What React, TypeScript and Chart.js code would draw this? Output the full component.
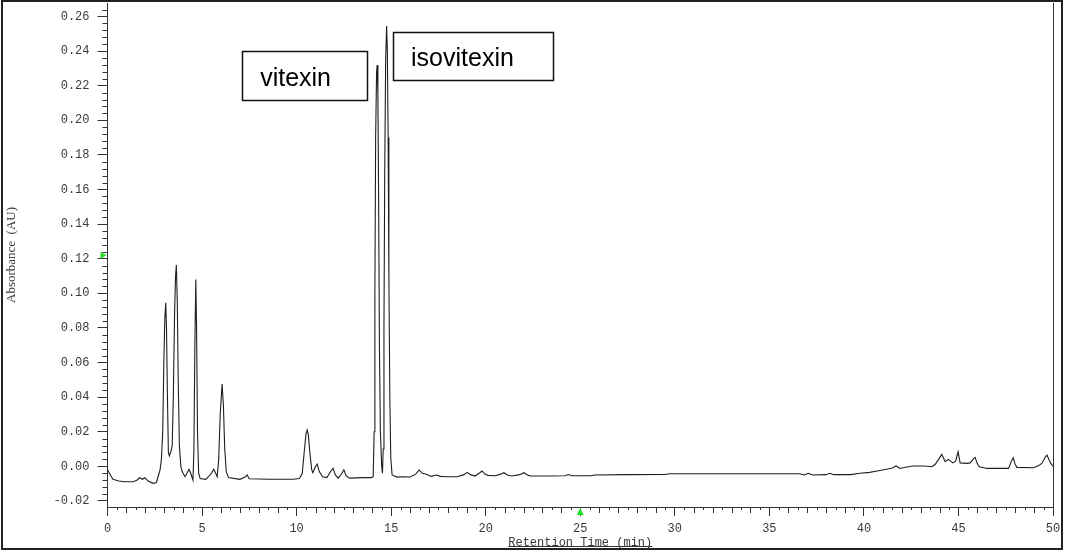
import React, { useEffect, useRef } from 'react';
import Chart from 'chart.js/auto';

// Retention time (min) of each sampled point of the trace
const retentionTime = [
  0.00, 0.10, 0.29, 0.60, 0.91, 1.35, 1.55, 1.70, 1.85, 1.97, 2.15, 2.41, 2.59, 2.70, 2.78, 2.85, 2.92, 2.98,
  3.03, 3.08, 3.12, 3.17, 3.22, 3.27, 3.35, 3.42, 3.48, 3.55, 3.60, 3.64, 3.69, 3.74, 3.80, 3.88, 3.95,
  4.10, 4.25, 4.31, 4.40, 4.52, 4.57, 4.62, 4.67, 4.71, 4.76, 4.82, 4.90, 5.20, 5.50, 5.62, 5.72, 5.80,
  5.88, 5.96, 6.06, 6.13, 6.20, 6.28, 6.40, 7.00, 7.30, 7.38, 7.50, 8.50, 9.80, 10.15, 10.30, 10.40,
  10.50, 10.56, 10.62, 10.70, 10.80, 10.86, 10.98, 11.09, 11.20, 11.37, 11.60, 11.80, 11.93, 12.05,
  12.20, 12.40, 12.50, 12.62, 12.80, 13.50, 13.95, 14.05, 14.10, 14.14, 14.18, 14.23, 14.26, 14.30,
  14.34, 14.38, 14.43, 14.50, 14.54, 14.58, 14.62, 14.66, 14.71, 14.76, 14.80, 14.84, 14.88, 14.93,
  14.98, 15.05, 15.30, 15.60, 16.00, 16.30, 16.48, 16.65, 16.87, 17.10, 17.40, 17.60, 17.93, 18.50,
  18.85, 19.02, 19.20, 19.43, 19.65, 19.81, 19.95, 20.13, 20.50, 20.80, 20.96, 21.15, 21.37, 21.80,
  22.02, 22.20, 22.34, 23.50, 24.20, 24.37, 24.55, 25.60, 25.75, 27.50, 29.50, 29.70, 32.00, 34.50,
  36.60, 36.85, 37.05, 37.30, 38.00, 38.20, 38.40, 39.30, 39.80, 40.30, 40.70, 41.20, 41.50, 41.70,
  41.90, 42.20, 42.60, 43.20, 43.60, 43.77, 43.95, 44.12, 44.30, 44.47, 44.70, 44.85, 44.98, 45.09,
  45.44, 45.62, 45.80, 45.88, 45.98, 46.10, 46.50, 47.65, 47.80, 47.90, 48.00, 48.10, 48.97, 49.25,
  49.41, 49.60, 49.68, 49.80, 49.89, 50.00,
];

// Absorbance (AU) at each of those times
const absorbance = [
  -0.0020, -0.0040, -0.0075, -0.0085, -0.0089, -0.0089, -0.0080, -0.0066, -0.0075, -0.0066, -0.0085, -0.0098, -0.0093, -0.0050, -0.0020, 0.0040, 0.0200, 0.0600,
  0.0850, 0.0946, 0.0800, 0.0400, 0.0080, 0.0060, 0.0084, 0.0120, 0.0400, 0.0900, 0.1100, 0.1164, 0.0950, 0.0500, 0.0120, 0.0000, -0.0030,
  -0.0060, -0.0030, -0.0017, -0.0040, -0.0080, 0.0100, 0.0700, 0.1080, 0.0800, 0.0200, -0.0040, -0.0070, -0.0075, -0.0040, -0.0017, -0.0040, -0.0060,
  0.0040, 0.0300, 0.0476, 0.0350, 0.0100, -0.0030, -0.0065, -0.0075, -0.0060, -0.0050, -0.0072, -0.0075, -0.0075, -0.0070, -0.0040, 0.0080,
  0.0190, 0.0210, 0.0185, 0.0080, -0.0020, -0.0037, -0.0005, 0.0013, -0.0030, -0.0060, -0.0065, -0.0030, -0.0012, -0.0050,
  -0.0068, -0.0040, -0.0020, -0.0055, -0.0068, -0.0065, -0.0065, -0.0060, 0.0200, 0.1000, 0.1900, 0.2280, 0.2320, 0.2150,
  0.1500, 0.0700, 0.0200, 0.0000, -0.0040, 0.0100, 0.0800, 0.1700, 0.2350, 0.2545, 0.2400, 0.1900, 0.1100, 0.0400,
  0.0050, -0.0050, -0.0062, -0.0060, -0.0062, -0.0045, -0.0021, -0.0040, -0.0046, -0.0058, -0.0050, -0.0058, -0.0060, -0.0060,
  -0.0048, -0.0035, -0.0048, -0.0056, -0.0040, -0.0027, -0.0045, -0.0052, -0.0054, -0.0045, -0.0037, -0.0050, -0.0056, -0.0048,
  -0.0037, -0.0050, -0.0055, -0.0056, -0.0054, -0.0047, -0.0054, -0.0054, -0.0050, -0.0048, -0.0047, -0.0043, -0.0043, -0.0043,
  -0.0043, -0.0050, -0.0040, -0.0050, -0.0048, -0.0040, -0.0048, -0.0048, -0.0040, -0.0035, -0.0027, -0.0017, -0.0010, 0.0002,
  -0.0012, -0.0005, 0.0002, 0.0002, -0.0002, 0.0012, 0.0040, 0.0069, 0.0027, 0.0040, 0.0020, 0.0030, 0.0084, 0.0020,
  0.0017, 0.0020, 0.0045, 0.0052, 0.0020, -0.0002, -0.0012, -0.0012, 0.0030, 0.0050, 0.0010, -0.0006, -0.0008, 0.0005,
  0.0017, 0.0055, 0.0065, 0.0035, 0.0017, 0.0000,
];

const xTickValues = [0, 5, 10, 15, 20, 25, 30, 35, 40, 45, 50];
const yTickValues = [-0.02, 0.0, 0.02, 0.04, 0.06, 0.08, 0.1, 0.12, 0.14, 0.16, 0.18, 0.2, 0.22, 0.24, 0.26];
const peakNames = ['vitexin', 'isovitexin'];
const xAxisTitle = 'Retention Time (min)';
const yAxisTitle = 'Absorbance  (AU)';

// label boxes, given in data units (min, AU)
const labelBoxes = [
  { text: peakNames[0], x0: 7.12, x1: 13.72, yTop: 0.2400, yBottom: 0.2117 },
  { text: peakNames[1], x0: 15.1, x1: 23.57, yTop: 0.2510, yBottom: 0.2233 },
];

const Y_MIN = -0.0235;
const Y_MAX = 0.2678;
const AXIS_COLOR = '#333';
const MONO = '"Liberation Mono", "DejaVu Sans Mono", monospace';

const decorPlugin = {
  id: 'decor',
  afterDraw(chart: any) {
    const { ctx, chartArea, scales } = chart;
    const x = scales.x;
    const y = scales.y;
    ctx.save();
    ctx.strokeStyle = AXIS_COLOR;
    ctx.lineWidth = 1;
    // minor ticks on y
    for (let k = -5; k <= 66; k++) {
      if (k % 5 === 0) continue;
      const v = k * 0.004;
      if (v < Y_MIN || v > Y_MAX) continue;
      const py = Math.round(y.getPixelForValue(v)) + 0.5;
      ctx.beginPath();
      ctx.moveTo(chartArea.left - 5, py);
      ctx.lineTo(chartArea.left, py);
      ctx.stroke();
    }
    // minor ticks on x
    for (let k = 0; k <= 100; k++) {
      if (k % 10 === 0) continue;
      const px = Math.round(x.getPixelForValue(k * 0.5)) + 0.5;
      const len = k % 2 === 0 ? 6 : 3;
      ctx.beginPath();
      ctx.moveTo(px, chartArea.bottom);
      ctx.lineTo(px, chartArea.bottom + len);
      ctx.stroke();
    }
    // right border of plot
    const rx = Math.round(chartArea.right) + 0.5;
    ctx.beginPath();
    ctx.moveTo(rx, chartArea.top);
    ctx.lineTo(rx, chartArea.bottom);
    ctx.stroke();
    // underline of x title
    ctx.font = `12px ${MONO}`;
    const w = ctx.measureText(xAxisTitle).width;
    const cx = (chartArea.left + chartArea.right) / 2;
    ctx.beginPath();
    ctx.moveTo(cx - w / 2, 546.5);
    ctx.lineTo(cx + w / 2, 546.5);
    ctx.stroke();
    // outer frame
    ctx.strokeStyle = '#222';
    ctx.lineWidth = 2;
    ctx.strokeRect(2, 1, 1060, 548);
    // green markers
    ctx.fillStyle = '#22dd22';
    const my = y.getPixelForValue(0.122);
    ctx.beginPath();
    ctx.moveTo(chartArea.left - 7, my - 3.5);
    ctx.lineTo(chartArea.left - 7, my + 3.5);
    ctx.lineTo(chartArea.left - 1, my);
    ctx.closePath();
    ctx.fill();
    const mx = x.getPixelForValue(25);
    ctx.beginPath();
    ctx.moveTo(mx, chartArea.bottom + 1);
    ctx.lineTo(mx - 3.5, chartArea.bottom + 8);
    ctx.lineTo(mx + 3.5, chartArea.bottom + 8);
    ctx.closePath();
    ctx.fill();
    // label boxes
    ctx.strokeStyle = '#111';
    ctx.lineWidth = 1.5;
    ctx.font = '25px "Liberation Sans", Arial, sans-serif';
    ctx.textBaseline = 'alphabetic';
    ctx.textAlign = 'left';
    for (const b of labelBoxes) {
      const l = x.getPixelForValue(b.x0);
      const r = x.getPixelForValue(b.x1);
      const t = y.getPixelForValue(b.yTop);
      const bt = y.getPixelForValue(b.yBottom);
      ctx.fillStyle = '#fff';
      ctx.fillRect(l, t, r - l, bt - t);
      ctx.strokeRect(Math.round(l) + 0.5, Math.round(t) + 0.5, Math.round(r - l), Math.round(bt - t));
      ctx.fillStyle = '#000';
      ctx.fillText(b.text, l + 18, (t + bt) / 2 + 10);
    }
    ctx.restore();
  },
};

export default function App() {
  const canvasRef = useRef<HTMLCanvasElement>(null);
  useEffect(() => {
    const points = retentionTime.map((t, i) => ({ x: t, y: absorbance[i] }));
    const chart = new Chart(canvasRef.current as HTMLCanvasElement, {
      type: 'line',
      data: {
        datasets: [
          {
            data: points,
            borderColor: '#1e1e1e',
            borderWidth: 1.1,
            pointRadius: 0,
            tension: 0,
            fill: false,
          },
        ],
      },
      options: {
        animation: false,
        responsive: false,
        devicePixelRatio: 1,
        layout: { padding: { left: 0, right: 12, top: 3, bottom: 0 } },
        plugins: { legend: { display: false }, tooltip: { enabled: false } },
        scales: {
          x: {
            type: 'linear',
            min: 0,
            max: 50,
            afterBuildTicks: (s: any) => {
              s.ticks = xTickValues.map((v) => ({ value: v }));
            },
            afterFit: (s: any) => {
              s.height = 44;
              s.paddingLeft = 0;
              s.paddingRight = 0;
            },
            ticks: {
              autoSkip: false,
              maxRotation: 0,
              padding: 6,
              color: '#3a3a3a',
              font: { family: MONO, size: 12 },
              callback: (v: any) => String(v),
            },
            grid: { display: true, drawOnChartArea: false, drawTicks: true, tickLength: 9, color: AXIS_COLOR },
            border: { display: true, color: AXIS_COLOR, width: 1 },
            title: {
              display: true,
              text: xAxisTitle,
              color: '#3a3a3a',
              font: { family: MONO, size: 12 },
              padding: { top: 0, bottom: 1 },
            },
          },
          y: {
            type: 'linear',
            min: Y_MIN,
            max: Y_MAX,
            afterBuildTicks: (s: any) => {
              s.ticks = yTickValues.map((v) => ({ value: v }));
            },
            afterFit: (s: any) => {
              s.width = 107.5;
              s.paddingTop = 0;
              s.paddingBottom = 0;
            },
            ticks: {
              autoSkip: false,
              padding: 8,
              color: '#3a3a3a',
              font: { family: MONO, size: 12 },
              callback: (v: any) => Number(v).toFixed(2),
            },
            grid: { display: true, drawOnChartArea: false, drawTicks: true, tickLength: 10, color: AXIS_COLOR },
            border: { display: true, color: AXIS_COLOR, width: 1 },
            title: {
              display: true,
              text: yAxisTitle,
              color: '#3a3a3a',
              font: { family: '"Liberation Serif", "DejaVu Serif", serif', size: 13 },
              padding: { top: 4, bottom: 0 },
            },
          },
        },
      },
      plugins: [decorPlugin],
    } as any);
    return () => chart.destroy();
  }, []);
  return (
    <div style={{ position: 'absolute', left: 0, top: 0, width: 1065, height: 551, background: '#fff' }}>
      <canvas ref={canvasRef} width={1065} height={551} style={{ display: 'block', width: 1065, height: 551 }} />
    </div>
  );
}
